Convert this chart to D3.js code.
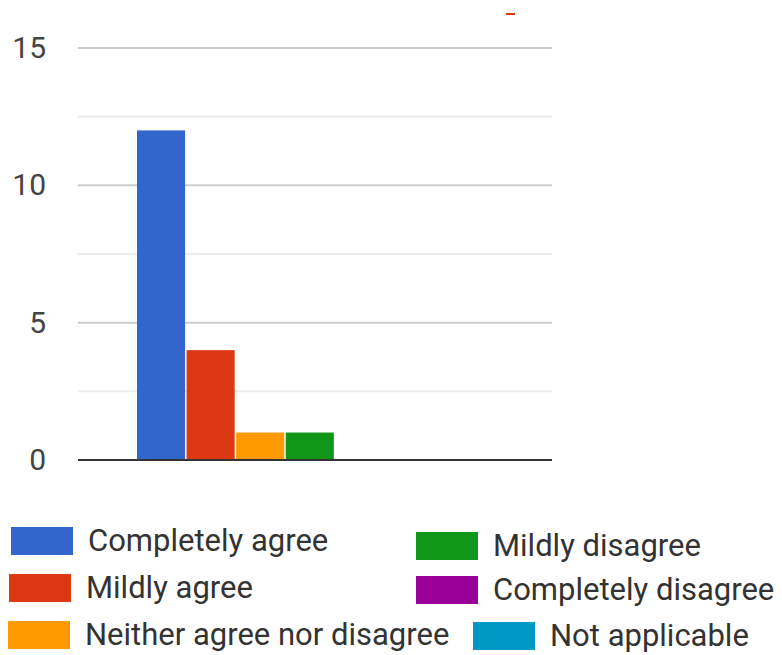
<!DOCTYPE html>
<html>
<head>
<meta charset="utf-8">
<script src="https://cdn.jsdelivr.net/npm/d3@7"></script>
<style>
  body { margin: 0; background: #fff; }
  svg { display: block; }
</style>
</head>
<body>
<div id="chart"></div>
<script>
/* ------------------------- Data ------------------------- */
var categories = ["Completely agree", "Mildly agree", "Neither agree nor disagree",
                  "Mildly disagree", "Completely disagree", "Not applicable"];
var values = [12, 4, 1, 1, 0, 0];
var colors = ["#3366cc", "#dc3912", "#ff9900", "#109618", "#990099", "#0099c6"];
var majorTicks = [0, 5, 10, 15];
var minorTicks = [2.5, 7.5, 12.5];

/* ------------------------- Setup ------------------------- */
var width = 782,
    height = 655,
    plotLeft = 78,
    plotRight = 552,
    fontFamily = "Roboto, Arial, sans-serif";

var svg = d3.select("#chart")
            .append("svg")
            .attr("width", width)
            .attr("height", height);

var y = d3.scaleLinear().domain([0, 15]).range([460, 48]);
var x = d3.scaleBand().domain(categories).range([137, 433]).paddingInner(0.03);

/* Gridlines */
svg.append("g")
    .selectAll("line")
    .data(minorTicks)
    .enter().append("line")
    .attr("x1", plotLeft)
    .attr("x2", plotRight)
    .attr("y1", function(d) { return y(d); })
    .attr("y2", function(d) { return y(d); })
    .attr("stroke", "#ececec")
    .attr("stroke-width", 2);

svg.append("g")
    .selectAll("line")
    .data(majorTicks.filter(function(d) { return d !== 0; }))
    .enter().append("line")
    .attr("x1", plotLeft)
    .attr("x2", plotRight)
    .attr("y1", function(d) { return y(d); })
    .attr("y2", function(d) { return y(d); })
    .attr("stroke", "#cccccc")
    .attr("stroke-width", 2);

/* Y axis labels */
var yAxis = d3.axisLeft(y).tickValues(majorTicks).tickSize(0).tickPadding(0);
var yg = svg.append("g")
    .attr("transform", "translate(46,0)")
    .call(yAxis);
yg.select(".domain").remove();
yg.selectAll("text")
    .attr("font-family", fontFamily)
    .attr("font-size", 30)
    .attr("fill", "#444");

/* Bars */
svg.append("g")
    .selectAll("rect")
    .data(values)
    .enter().append("rect")
    .attr("x", function(d, i) { return x(categories[i]); })
    .attr("y", function(d) { return y(d); })
    .attr("width", x.bandwidth())
    .attr("height", function(d) { return y(0) - y(d); })
    .attr("fill", function(d, i) { return colors[i]; });

/* Baseline */
svg.append("line")
    .attr("x1", plotLeft)
    .attr("x2", plotRight)
    .attr("y1", y(0))
    .attr("y2", y(0))
    .attr("stroke", "#333")
    .attr("stroke-width", 2);

/* Small red fragment at top */
svg.append("rect")
    .attr("x", 506).attr("y", 13)
    .attr("width", 9).attr("height", 2)
    .attr("fill", "#dc3912");

/* ------------------------- Legend ------------------------- */
var legendPos = [
    {x: 11, y: 527},
    {x: 9, y: 574},
    {x: 8, y: 621},
    {x: 416, y: 532},
    {x: 416, y: 576},
    {x: 473, y: 622}
];

var legend = svg.append("g")
    .selectAll("g")
    .data(categories)
    .enter().append("g")
    .attr("transform", function(d, i) { return "translate(" + legendPos[i].x + "," + legendPos[i].y + ")"; });

legend.append("rect")
    .attr("width", 62)
    .attr("height", 28)
    .attr("fill", function(d, i) { return colors[i]; });

legend.append("text")
    .attr("x", 77)
    .attr("y", 24)
    .attr("font-family", fontFamily)
    .attr("font-size", 31)
    .attr("fill", "#333")
    .text(function(d) { return d; });
</script>
</body>
</html>
